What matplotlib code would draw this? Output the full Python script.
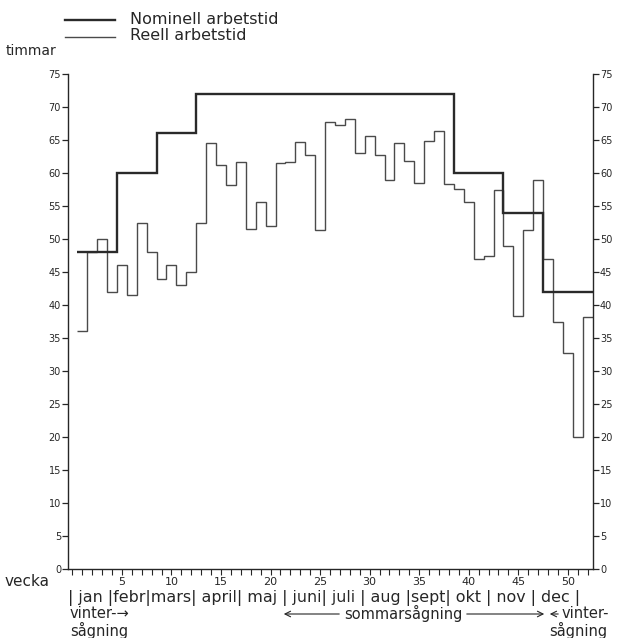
import numpy as np
import matplotlib
matplotlib.use('Agg')
import matplotlib.pyplot as plt
from matplotlib.lines import Line2D

# veckovärden, reell arbetstid (timmar)
weeks = np.arange(1, 53)
reell = [36, 48, 50, 42, 46, 41.5, 52.5, 48, 44, 46,
         43, 45, 52.5, 64.6, 61.2, 58.2, 61.6, 51.5, 55.6, 52,
         61.5, 61.7, 64.7, 62.8, 51.3, 67.8, 67.3, 68.2, 63, 65.6,
         62.7, 59, 64.6, 61.8, 58.5, 64.8, 66.3, 58.4, 57.5, 55.6,
         47, 47.5, 57.4, 48.9, 38.4, 51.4, 59, 47, 37.5, 32.7,
         20, 38.2]

# nominell arbetstid: nivå och sista vecka för varje period
nom_level = [48, 60, 66, 72, 60, 54, 42]
nom_last_week = [4, 8, 12, 38, 43, 47, 52]

yticks = list(range(0, 80, 5))
xticklabels = [5, 10, 15, 20, 25, 30, 35, 40, 45, 50]
months = "| jan |febr|mars| april| maj | juni| juli | aug |sept| okt | nov | dec |"

W, H = 620, 638
fx = lambda x: x / W
fy = lambda y: 1 - y / H

plt.rcParams['font.family'] = ['DejaVu Sans']
ink = '#262626'

fig = plt.figure(figsize=(6.2, 6.38), dpi=100)
ax = fig.add_axes([fx(68), fy(569), fx(593) - fx(68), fy(74) - fy(569)])

edges = np.append(weeks - 0.5, weeks[-1] + 0.5)
ax.stairs(reell, edges, baseline=None, color='#4a4a4a', lw=1.0)

nom_edges = [0.5] + [w + 0.5 for w in nom_last_week]
ax.stairs(nom_level, nom_edges, baseline=None, color='#2a2a2a', lw=1.7)

ax.set_xlim(-0.44, 52.54)
ax.set_ylim(0, 75)
ax.spines['top'].set_visible(False)
for s in ['left', 'right', 'bottom']:
    ax.spines[s].set_linewidth(1.0)
    ax.spines[s].set_color(ink)

ax.set_yticks(yticks)
ax.tick_params(axis='y', which='both', left=True, right=True, labelleft=True, labelright=True,
               direction='out', length=4, width=0.9, labelsize=7, colors=ink, pad=1)
ax.set_xticks(xticklabels)
ax.set_xticklabels([str(v) for v in xticklabels])
ax.set_xticks(np.arange(0, 53), minor=True)
ax.tick_params(axis='x', which='both', direction='out', length=4, width=0.8, labelsize=8, colors=ink, pad=2)

# förklaring
fig.add_artist(Line2D([fx(65), fx(115)], [fy(20), fy(20)], color='#2a2a2a', lw=1.7))
fig.add_artist(Line2D([fx(65), fx(115)], [fy(37), fy(37)], color='#4a4a4a', lw=1.0))
fig.text(fx(130), fy(19), "Nominell arbetstid", fontsize=11.5, color=ink, va='center')
fig.text(fx(130), fy(35), "Reell arbetstid", fontsize=11.5, color=ink, va='center')

fig.text(fx(6), fy(51), "timmar", fontsize=10, color=ink, va='center')
fig.text(fx(5), fy(582), "vecka", fontsize=11, color=ink, va='center')

fig.text(fx(68), fy(598), months, fontsize=11.4, color=ink, va='center')

fig.text(fx(70), fy(614), "vinter-\u2192", fontsize=10.5, color=ink, va='center')
fig.text(fx(70), fy(630), "sågning", fontsize=10.5, color=ink, va='center')

fig.text(fx(403), fy(613), "sommarsågning", fontsize=10.5, color=ink, va='center', ha='center')
ax.annotate('', xy=(fx(281), fy(614)), xytext=(fx(342), fy(614)), xycoords='figure fraction',
            arrowprops=dict(arrowstyle='->', lw=0.8, color=ink))
ax.annotate('', xy=(fx(547), fy(614)), xytext=(fx(464), fy(614)), xycoords='figure fraction',
            arrowprops=dict(arrowstyle='->', lw=0.8, color=ink))
ax.annotate('', xy=(fx(547), fy(614)), xytext=(fx(561), fy(614)), xycoords='figure fraction',
            arrowprops=dict(arrowstyle='->', lw=0.8, color=ink))
fig.text(fx(562), fy(613), "vinter-", fontsize=10.5, color=ink, va='center')
fig.text(fx(549), fy(630), "sågning", fontsize=10.5, color=ink, va='center')

fig.savefig('out.png', dpi=100)
